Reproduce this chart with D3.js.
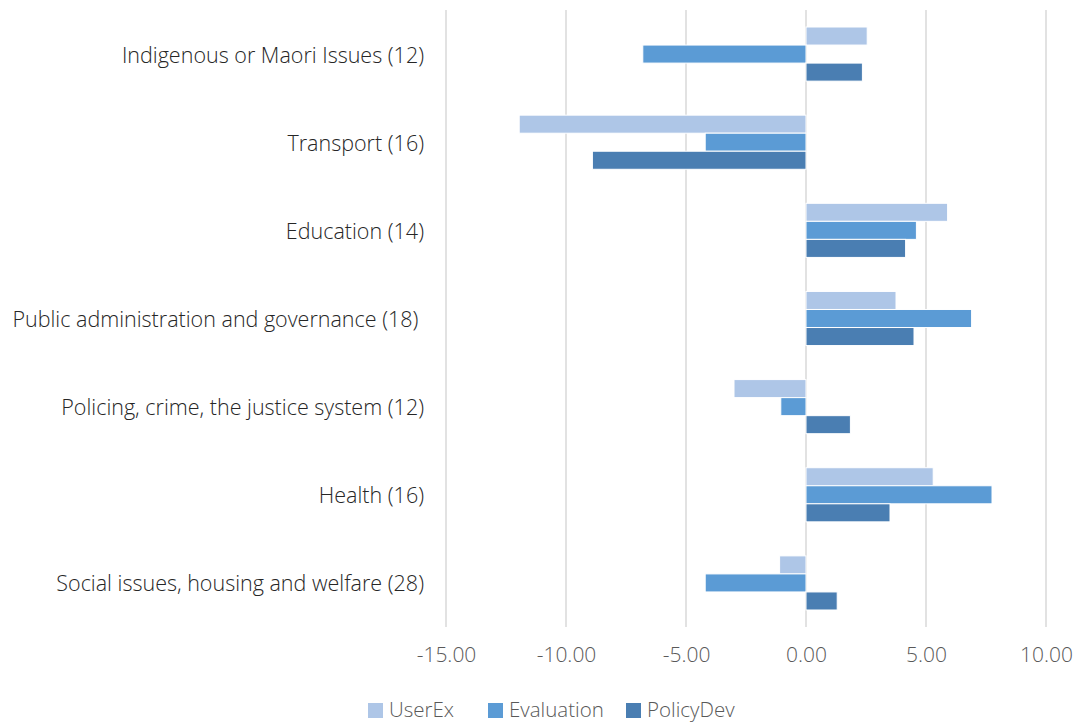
<!DOCTYPE html>
<html><head><meta charset="utf-8">
<script src="https://cdn.jsdelivr.net/npm/d3@7"></script>
<style>body{margin:0;background:#fff;} svg{display:block;font-family:"Open Sans", sans-serif;}</style>
</head><body>
<svg id="c" width="1076" height="724"></svg>
<script>
const categories = ["Indigenous or Maori Issues (12)","Transport (16)","Education (14)","Public administration and governance (18) ","Policing, crime, the justice system (12)","Health (16)","Social issues, housing and welfare (28)"];
const seriesNames = ["UserEx","Evaluation","PolicyDev"];
const userEx = [2.55,-11.95,5.9,3.75,-3.0,5.3,-1.1];
const evaluation = [-6.8,-4.2,4.6,6.9,-1.05,7.75,-4.2];
const policyDev = [2.35,-8.9,4.15,4.5,1.85,3.5,1.3];
const tickValues = [-15,-10,-5,0,5,10];
const colors = ["#aec6e7","#5b9bd5","#4a7eb2"];

(function(){
const values = [userEx, evaluation, policyDev];
const svg = d3.select("#c");
const pLeft = 446, pRight = 1046, pTop = 10, pBottom = 627;
const x = d3.scaleLinear().domain([-15,10]).range([pLeft,pRight]);
const y = d3.scaleBand().domain(categories).range([pTop,pBottom]).paddingInner(0.386).paddingOuter(0.193);
const ySub = d3.scaleBand().domain(seriesNames).range([0,y.bandwidth()]);

svg.append("g").selectAll("line").data(tickValues).join("line")
  .attr("x1",d=>x(d)).attr("x2",d=>x(d)).attr("y1",pTop).attr("y2",pBottom)
  .attr("stroke","#d9d9d9").attr("stroke-width",1.5);

seriesNames.forEach((s,si)=>{
  svg.append("g").selectAll("rect").data(categories).join("rect")
    .attr("x",(c,i)=>Math.min(x(0),x(values[si][i])))
    .attr("width",(c,i)=>Math.abs(x(values[si][i])-x(0)))
    .attr("y",c=>y(c)+ySub(s))
    .attr("height",ySub.bandwidth())
    .attr("fill",colors[si]).attr("stroke","#fff").attr("stroke-width",1);
});

svg.append("g").selectAll("text").data(categories).join("text")
  .attr("x",424).attr("y",c=>y(c)+y.bandwidth()/2)
  .attr("text-anchor","end").attr("dominant-baseline","central")
  .style("white-space","pre")
  .attr("font-size",21.5).attr("font-weight",300).attr("fill","#262626").text(c=>c);

const fmt = d => d3.format(".2f")(d).replace("\u2212","-");
const xAxis = d3.axisBottom(x).tickValues(tickValues).tickFormat(fmt).tickSize(0).tickPadding(0);
const gx = svg.append("g").attr("transform",`translate(0,${pBottom+20})`).call(xAxis);
gx.select(".domain").remove();
gx.selectAll("text").attr("font-size",21).attr("font-weight",300).attr("fill","#595959").attr("font-family","'Open Sans', sans-serif");

const legX = [368,488,626];
const lg = svg.append("g");
seriesNames.forEach((s,i)=>{
  lg.append("rect").attr("x",legX[i]).attr("y",703).attr("width",15).attr("height",15).attr("fill",colors[i]);
  lg.append("text").attr("x",legX[i]+21).attr("y",709).attr("dominant-baseline","central")
    .attr("font-size",20.5).attr("font-weight",300).attr("fill","#595959").text(s);
});
})();
</script>
</body></html>
